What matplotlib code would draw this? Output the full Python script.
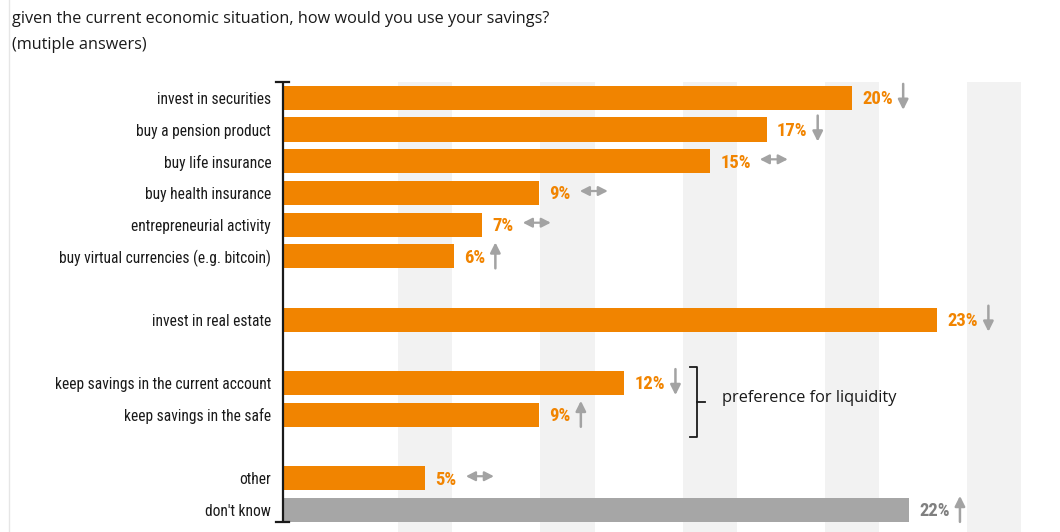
import matplotlib
matplotlib.use("Agg")
import matplotlib.pyplot as plt
from matplotlib import font_manager
from matplotlib.lines import Line2D
from matplotlib.patches import FancyArrowPatch

# ---- data -------------------------------------------------------------
title_lines = ["given the current economic situation, how would you use your savings?",
               "(mutiple answers)"]

group_investment = ["invest in securities", "buy a pension product", "buy life insurance",
                    "buy health insurance", "entrepreneurial activity",
                    "buy virtual currencies (e.g. bitcoin)"]
group_real_estate = ["invest in real estate"]
group_liquidity = ["keep savings in the current account", "keep savings in the safe"]
group_other = ["other", "don't know"]

values_investment = [20, 17, 15, 9, 7, 6]
values_real_estate = [23]
values_liquidity = [12, 9]
values_other = [5, 22]

# change versus the previous survey: "up", "down" or "flat"
trend_investment = ["down", "down", "flat", "flat", "flat", "up"]
trend_real_estate = ["down"]
trend_liquidity = ["down", "up"]
trend_other = ["flat", "up"]

liquidity_note = "preference for liquidity"

# ---- styling ----------------------------------------------------------
ORANGE = "#F18400"
GREY_BAR = "#A6A6A6"
GREY_TXT = "#808080"
ARROW = "#A3A3A3"
STRIPE = "#F2F2F2"

fonts = font_manager.fontManager.ttflist
names = {f.name for f in fonts}
label_props = {}
for cand in ["Roboto Condensed", "Liberation Sans Narrow", "Open Sans Condensed"]:
    if cand in names:
        label_props = {"family": cand}
        break
else:
    if any(f.name == "DejaVu Sans" and f.stretch == "condensed" for f in fonts):
        label_props = {"family": "DejaVu Sans", "stretch": "condensed"}
    else:
        label_props = {"family": "Roboto"}
body_family = "Open Sans" if "Open Sans" in names else "DejaVu Sans"

# ---- layout of rows (one empty row between groups) ------------------
groups = [
    (group_investment, values_investment, trend_investment),
    (group_real_estate, values_real_estate, trend_real_estate),
    (group_liquidity, values_liquidity, trend_liquidity),
    (group_other, values_other, trend_other),
]
labels, values, trends, rows, group_rows = [], [], [], [], []
r = 0
for cats, vals, trs in groups:
    g = []
    for c, v, t in zip(cats, vals, trs):
        labels.append(c); values.append(v); trends.append(t); rows.append(r); g.append(r)
        r += 1
    group_rows.append(g)
    r += 1
n_rows = r - 1
highlight = [lab != "don't know" for lab in labels]

W, H = 1060, 532
fig = plt.figure(figsize=(W / 100, H / 100), dpi=100)
left_px, top_px = 283, 82
px_per_unit = 28.45
xmax = (W - left_px) / px_per_unit
ax = fig.add_axes([left_px / W, 0, 1 - left_px / W, 1 - top_px / H])
ax.set_xlim(0, xmax)
ax.set_ylim(n_rows - 0.3, -0.5)
for s in ax.spines.values():
    s.set_visible(False)
ax.set_xticks([])

# alternating background bands around every 5 %
for c in range(5, int(xmax) + 1, 5):
    ax.axvspan(c - 0.95, c + 0.95, color=STRIPE, zorder=0, lw=0)

# bars
colors = [ORANGE if h else GREY_BAR for h in highlight]
ax.barh(rows, values, height=0.76, color=colors, zorder=2, lw=0)

# category labels, sized so the longest one fits the left margin
fs = 10.0
probe = fig.text(0, 0, max(labels, key=len), fontsize=fs, **label_props)
renderer = fig.canvas.get_renderer()
wpx = probe.get_window_extent(renderer).width
probe.remove()
fs = fs * 212 / wpx
ax.set_yticks(rows, labels)
ax.tick_params(axis="y", length=0, pad=8.5)
for t in ax.get_yticklabels():
    t.set_fontsize(fs)
    t.set_color("#1a1a1a")
    for k, v in label_props.items():
        getattr(t, "set_" + k)(v)

# axis line with end caps
y_top, y_bot = -0.5, n_rows - 0.62
ax.plot([0, 0], [y_top, y_bot], color="#1a1a1a", lw=1.6, zorder=3, clip_on=False,
        solid_capstyle="butt")
for y in (y_top, y_bot):
    ax.plot([-0.26, 0.2], [y, y], color="#1a1a1a", lw=1.6, zorder=3, clip_on=False)

# value labels
val_texts = []
for row, v, h in zip(rows, values, highlight):
    t = ax.annotate(f"{v}%", xy=(v, row), xytext=(7.5, -1), textcoords="offset points",
                    va="center", ha="left", fontsize=fs * 1.2, fontweight="bold",
                    color=ORANGE if h else GREY_TXT, **label_props)
    val_texts.append(t)

# trend arrows placed right after each value label
fig.canvas.draw()
renderer = fig.canvas.get_renderer()
inv = ax.transData.inverted()
unit_px = ax.transData.transform((1, 0))[0] - ax.transData.transform((0, 0))[0]
for t, row, tr in zip(val_texts, rows, trends):
    bb = t.get_window_extent(renderer)
    if tr == "flat":
        x0 = inv.transform((bb.x1 + 9, 0))[0]
        x1 = x0 + 28 / unit_px
        a = FancyArrowPatch((x0, row - 0.06), (x1, row - 0.06),
                            arrowstyle="<|-|>,head_length=0.55,head_width=0.28",
                            mutation_scale=10, color=ARROW, lw=1.6,
                            shrinkA=0, shrinkB=0, zorder=3)
    else:
        xc = inv.transform((bb.x1 + 10, 0))[0]
        ya, yb = row - 0.44, row + 0.38
        if tr == "up":
            ya, yb = yb, ya
        a = FancyArrowPatch((xc, ya), (xc, yb),
                            arrowstyle="-|>,head_length=0.6,head_width=0.3",
                            mutation_scale=10, color=ARROW, lw=1.8,
                            shrinkA=0, shrinkB=0, zorder=3)
    a.set_clip_on(False)
    ax.add_patch(a)

# bracket around the liquidity group
liq = group_rows[2]
b_top, b_bot = liq[0] - 0.5, liq[-1] + 0.7
b_mid = (b_top + b_bot) / 2
bx = 14.55
ax.add_line(Line2D([bx - 0.25, bx, bx, bx - 0.25], [b_top, b_top, b_bot, b_bot],
                   color="#1a1a1a", lw=1.3, zorder=3))
ax.add_line(Line2D([bx, bx + 0.28], [b_mid, b_mid], color="#1a1a1a", lw=1.3, zorder=3))
ax.text(bx + 0.88, b_mid - 0.12, liquidity_note, va="center", ha="left",
        fontsize=11.8, color="#1a1a1a", family=body_family)

# heading
fig.text(12 / W, 1 - 19 / H, title_lines[0], fontsize=11.7, color="#1a1a1a",
         family=body_family, va="center", ha="left")
fig.text(12 / W, 1 - 45 / H, title_lines[1], fontsize=11.7, color="#1a1a1a",
         family=body_family, va="center", ha="left")

# thin frame line on the left edge
fig.add_artist(Line2D([8.5 / W, 8.5 / W], [0, 1], color="#E6E6E6", lw=1))

fig.savefig("out.png", dpi=100)
